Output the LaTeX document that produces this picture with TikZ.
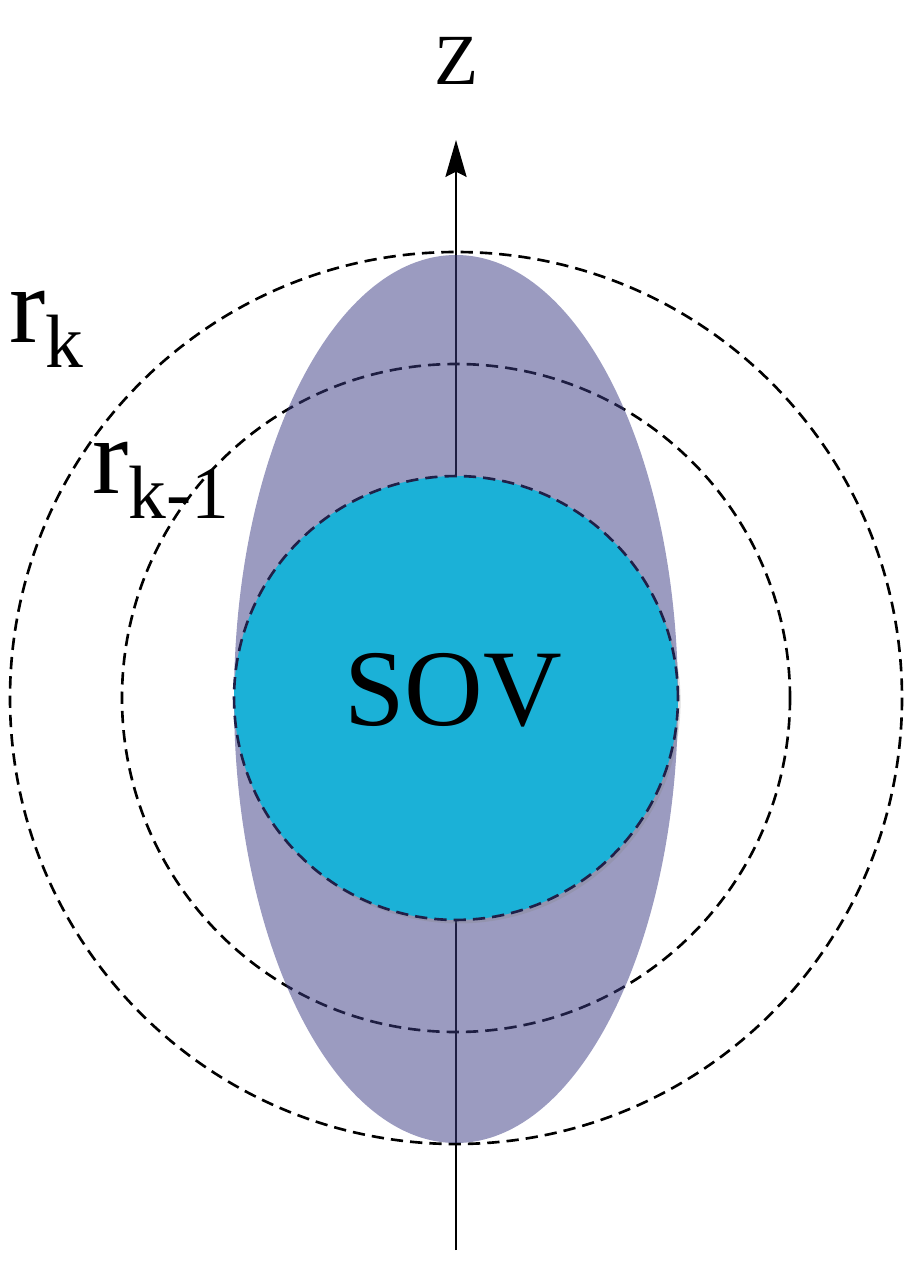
\documentclass[tikz,border=0pt]{standalone}
\usepackage{fontspec}
\setmainfont{Liberation Serif}
\usetikzlibrary{arrows.meta,positioning,shadows}
\definecolor{lobecol}{RGB}{59,59,131}
\definecolor{sovcyan}{RGB}{27,177,215}
\definecolor{sovline}{RGB}{32,32,72}

\begin{document}
\begin{tikzpicture}[x=0.02cm,y=-0.02cm,
    shell/.style={draw,line width=1.5pt,dash pattern=on 7pt off 4pt},
    lbl/.style={inner sep=0pt,font=\fontsize{62}{62}\selectfont},
    sub/.style={font=\fontsize{43}{43}\selectfont}
  ]
  \useasboundingbox (0,0) rectangle (922,1280);
  \coordinate (c) at (456,698);
  % dashed shells
  \draw[shell] (c) circle[radius=446];
  \draw[shell] (c) circle[radius=334];
  % z axis
  \coordinate (zbot) at (456,1250);
  \coordinate (ztop) at (456,140);
  \draw[line width=1.4pt,-{Stealth[length=21pt,width=12pt,inset=3pt]}] (zbot) -- (ztop);
  \node[font=\fontsize{41}{41}\selectfont,anchor=base,inner sep=0pt] (zlbl) at (456,85) {Z};
  % lobe over the lines
  \fill[lobecol,fill opacity=0.51] (456,699) ellipse[x radius=222,y radius=444];
  % SOV
  \node[circle,shell,draw=sovline,fill=sovcyan,minimum size=8.88cm,inner sep=0pt,
        drop shadow={opacity=0.25,shadow xshift=1.5pt,shadow yshift=-2pt}] (sov) at (c) {};
  \node[lbl,anchor=base] (sovtxt) at (453,725) {SOV};
  % radii labels
  \node[lbl,anchor=base west] (rk) at (9,342) {r\raisebox{-0.23em}{\fontsize{43}{43}\selectfont k}};
  \node[lbl,anchor=base west] (rkm) at (92,493) {r\raisebox{-0.23em}{\fontsize{43}{43}\selectfont k-1}};
\end{tikzpicture}
\end{document}
